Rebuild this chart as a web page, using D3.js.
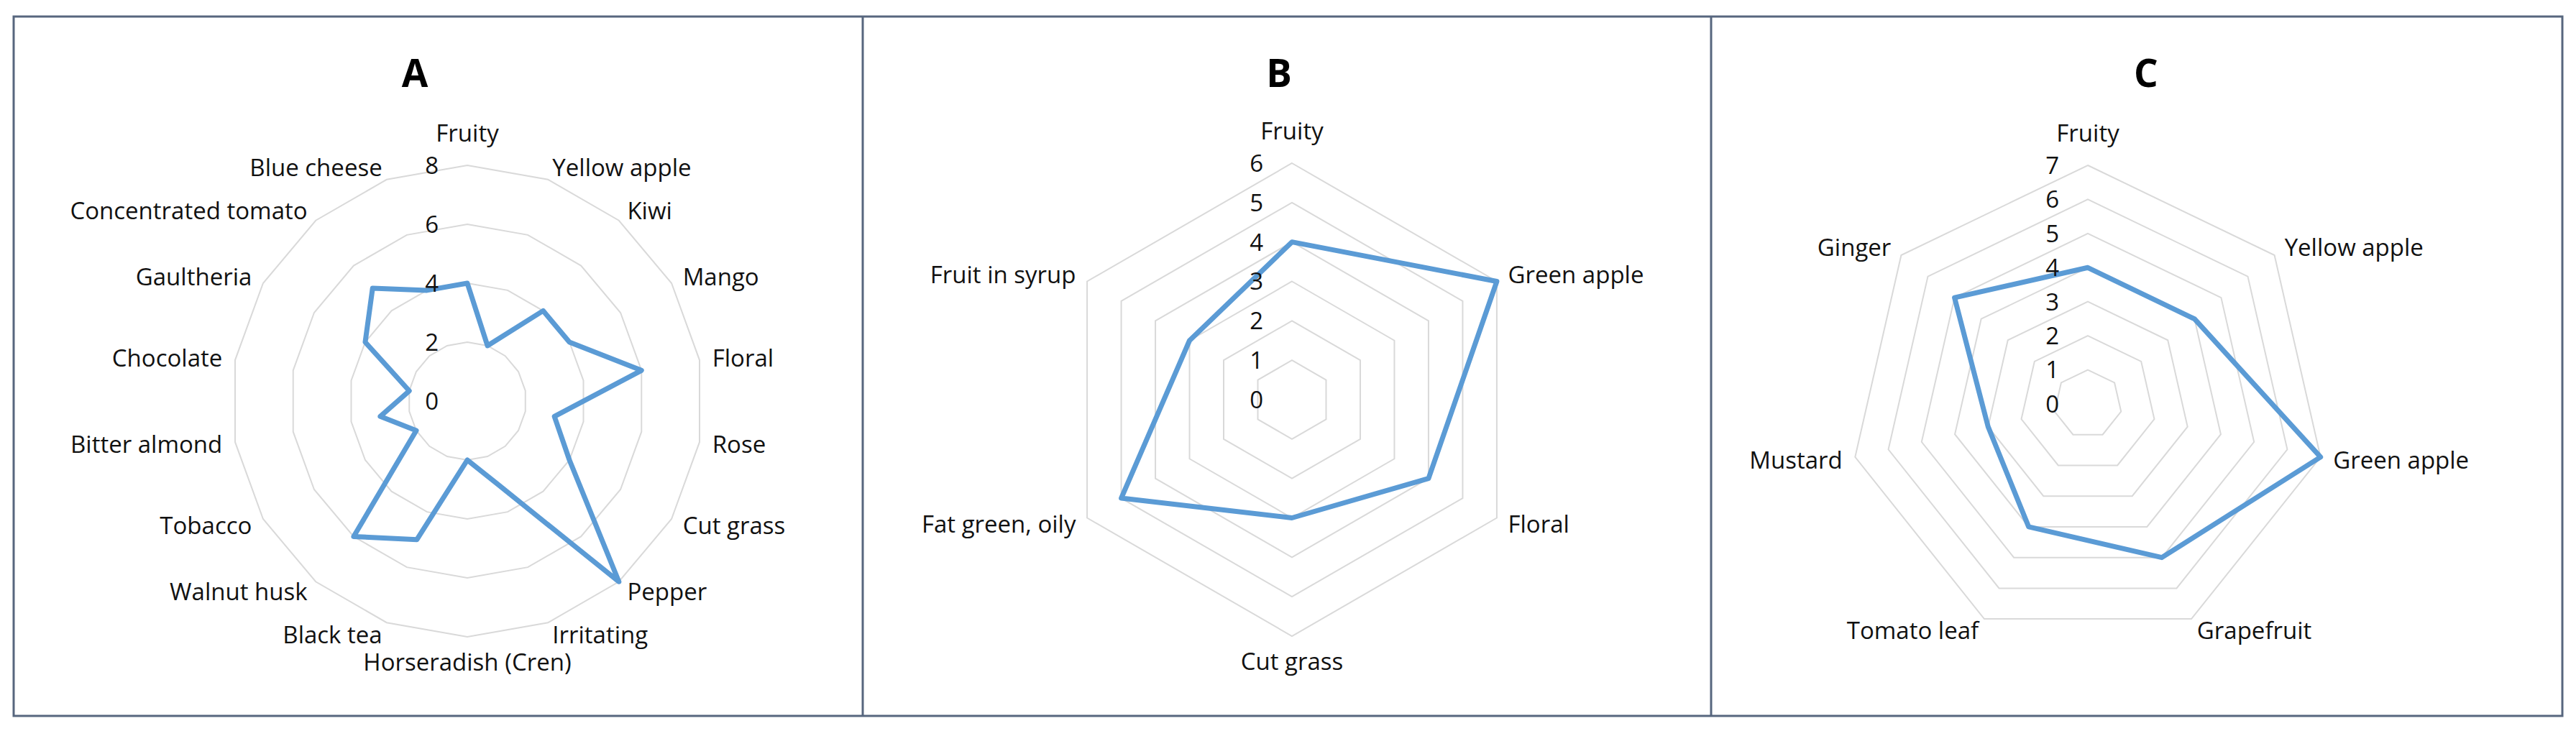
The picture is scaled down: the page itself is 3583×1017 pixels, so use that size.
<!DOCTYPE html>
<html>
<head>
<meta charset="utf-8">
<script src="https://cdn.jsdelivr.net/npm/d3@7"></script>
<style>
  html, body { margin: 0; padding: 0; background: #ffffff; }
  svg { display: block; }
</style>
</head>
<body>
<svg id="chart" width="3583" height="1017"></svg>
<script>
// ---------------- DATA ----------------
const titles = ["A", "B", "C"];

const categoriesA = ["Fruity", "Yellow apple", "Kiwi", "Mango", "Floral", "Rose", "Cut grass",
  "Pepper", "Irritating", "Horseradish (Cren)", "Black tea", "Walnut husk", "Tobacco",
  "Bitter almond", "Chocolate", "Gaultheria", "Concentrated tomato", "Blue cheese"];
const valuesA = [4, 2, 4, 4, 6, 3, 4, 8, 3, 2, 5, 6, 2, 3, 2, 4, 5, 4];
const ticksA = [0, 2, 4, 6, 8];

const categoriesB = ["Fruity", "Green apple", "Floral", "Cut grass", "Fat green, oily", "Fruit in syrup"];
const valuesB = [4, 6, 4, 3, 5, 3];
const ticksB = [0, 1, 2, 3, 4, 5, 6];

const categoriesC = ["Fruity", "Yellow apple", "Green apple", "Grapefruit", "Tomato leaf", "Mustard", "Ginger"];
const valuesC = [4, 4, 7, 5, 4, 3, 5];
const ticksC = [0, 1, 2, 3, 4, 5, 6, 7];

// ---------------- LAYOUT ----------------
const layout = [
  { cx: 650,  cy: 558, R: 328, titleX: 577,  panel: [19, 1200] },
  { cx: 1797, cy: 556, R: 329, titleX: 1779, panel: [1200, 2380] },
  { cx: 2904, cy: 562, R: 332, titleX: 2985, panel: [2380, 3564] }
];
const frameTop = 23, frameBottom = 996;
const fontFamily = "'Open Sans', 'DejaVu Sans', sans-serif";
const fs = 33;

const svg = d3.select("#chart");
svg.append("rect").attr("width", 3583).attr("height", 1017).attr("fill", "#ffffff");

const panels = [
  { cats: categoriesA, vals: valuesA, ticks: ticksA },
  { cats: categoriesB, vals: valuesB, ticks: ticksB },
  { cats: categoriesC, vals: valuesC, ticks: ticksC }
];

panels.forEach((p, k) => {
  const L = layout[k];
  const n = p.cats.length;
  const maxV = d3.max(p.ticks);
  const r = d3.scaleLinear().domain([0, maxV]).range([0, L.R]);
  const ang = d3.scaleLinear().domain([0, n]).range([0, 2 * Math.PI]);

  const g = svg.append("g").attr("transform", `translate(${L.cx},${L.cy})`);

  // grid rings
  const ring = d3.lineRadial()
    .angle((d, i) => ang(i))
    .radius(d => r(d))
    .curve(d3.curveLinearClosed);
  p.ticks.filter(t => t > 0).forEach(t => {
    g.append("path")
      .attr("d", ring(d3.range(n).map(() => t)))
      .attr("fill", "none")
      .attr("stroke", "#d9d9d9")
      .attr("stroke-width", 2);
  });

  // series
  const line = d3.lineRadial()
    .angle((d, i) => ang(i))
    .radius(d => r(d))
    .curve(d3.curveLinearClosed);
  g.append("path")
    .attr("d", line(p.vals))
    .attr("fill", "none")
    .attr("stroke", "#5b9bd5")
    .attr("stroke-width", 7)
    .attr("stroke-linejoin", "round");

  // tick labels
  g.selectAll("text.tick")
    .data(p.ticks)
    .enter().append("text")
    .attr("class", "tick")
    .attr("x", -40)
    .attr("y", d => -r(d) + fs * 0.36)
    .attr("text-anchor", "end")
    .attr("font-family", fontFamily)
    .attr("font-size", fs)
    .attr("fill", "#111")
    .text(d => d);

  // category labels
  const gap = 18;
  g.selectAll("text.cat")
    .data(p.cats)
    .enter().append("text")
    .attr("class", "cat")
    .each(function (d, i) {
      const a = ang(i);
      const s = Math.sin(a), c = Math.cos(a);
      const t = d3.select(this);
      let x, y, anchor;
      if (Math.abs(s) < 1e-6) {
        anchor = "middle";
        x = 0;
        y = c > 0 ? -L.R - 33 : L.R + 47;
      } else {
        anchor = s > 0 ? "start" : "end";
        x = (L.R + gap) * s;
        y = -(L.R + gap) * c + fs * 0.36;
      }
      t.attr("x", x).attr("y", y).attr("text-anchor", anchor);
    })
    .attr("font-family", fontFamily)
    .attr("font-size", fs)
    .attr("fill", "#111")
    .text(d => d);

  // title
  svg.append("text")
    .attr("x", L.titleX)
    .attr("y", 121)
    .attr("text-anchor", "middle")
    .attr("font-family", fontFamily)
    .attr("font-weight", "bold")
    .attr("font-size", 53)
    .attr("fill", "#000")
    .text(titles[k]);
});

// frames
const frame = svg.append("g").attr("fill", "none").attr("stroke", "#57667e").attr("stroke-width", 3);
frame.append("rect")
  .attr("x", layout[0].panel[0]).attr("y", frameTop)
  .attr("width", layout[2].panel[1] - layout[0].panel[0])
  .attr("height", frameBottom - frameTop);
[layout[1].panel[0], layout[2].panel[0]].forEach(x => {
  frame.append("line").attr("x1", x).attr("x2", x).attr("y1", frameTop).attr("y2", frameBottom);
});
</script>
</body>
</html>
